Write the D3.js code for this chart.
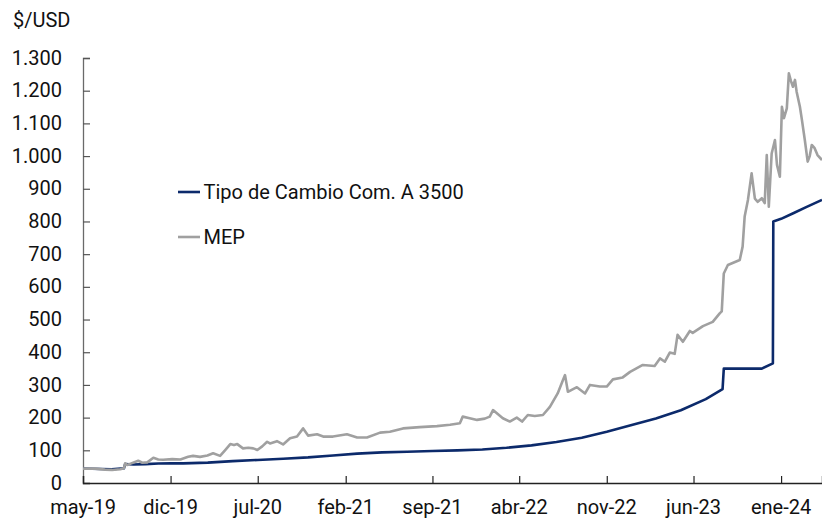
<!DOCTYPE html>
<html>
<head>
<meta charset="utf-8">
<script src="https://cdn.jsdelivr.net/npm/d3@7"></script>
<style>
  html, body { margin: 0; padding: 0; background: #fff; }
  svg { display: block; font-family: Roboto, "Noto Sans", sans-serif; }
</style>
</head>
<body>
<svg id="chart" width="822" height="520"></svg>
<script>
// ---------- DATA ----------
const unitLabel = "$/USD";
const seriesNames = ["Tipo de Cambio Com. A 3500", "MEP"];
const yTicks = [0, 100, 200, 300, 400, 500, 600, 700, 800, 900, 1000, 1100, 1200, 1300];
const xTickDates = ["2019-05-01", "2019-12-01", "2020-07-01", "2021-02-01", "2021-09-01",
                    "2022-04-01", "2022-11-01", "2023-06-01", "2024-01-01"];
const monthNames = ["ene", "feb", "mar", "abr", "may", "jun", "jul", "ago", "sep", "oct", "nov", "dic"];

const a3500Dates = ["2019-05-01", "2019-06-15", "2019-07-10", "2019-08-09", "2019-08-12", "2019-09-01",
  "2019-10-01", "2019-11-01", "2019-12-01", "2020-01-01", "2020-03-01", "2020-05-01", "2020-07-01",
  "2020-09-01", "2020-11-01", "2021-01-01", "2021-03-01", "2021-05-01", "2021-07-01", "2021-09-01",
  "2021-11-01", "2022-01-01", "2022-03-01", "2022-05-01", "2022-07-01", "2022-09-01", "2022-11-01",
  "2023-01-01", "2023-03-01", "2023-05-01", "2023-07-01", "2023-08-11", "2023-08-14", "2023-11-15",
  "2023-12-12", "2023-12-13", "2024-01-01", "2024-02-01", "2024-03-01", "2024-04-10"];
const a3500Values = [44.5, 43, 42, 45, 58, 56.5,
  57.6, 59.7, 59.9, 59.9, 62.3, 66.8, 70.5,
  74.2, 78.3, 84.1, 89.8, 93.6, 95.7, 97.7,
  99.7, 102.7, 107.6, 115.0, 125.2, 138.7, 156.9,
  177.1, 197.1, 222.4, 256.7, 287, 350, 350,
  366, 800, 808, 826, 843, 866];

const mepDates = ["2019-05-01", "2019-05-31", "2019-06-24", "2019-07-11", "2019-07-31", "2019-08-09",
  "2019-08-12", "2019-08-17", "2019-08-27", "2019-09-13", "2019-09-23", "2019-10-05", "2019-10-20",
  "2019-11-01", "2019-11-13", "2019-12-05", "2019-12-25", "2020-01-13", "2020-01-25", "2020-02-11",
  "2020-02-29", "2020-03-14", "2020-03-31", "2020-04-12", "2020-04-25", "2020-05-04", "2020-05-12",
  "2020-05-26", "2020-06-08", "2020-06-20", "2020-06-30", "2020-07-12", "2020-07-24", "2020-07-31",
  "2020-08-17", "2020-09-01", "2020-09-18", "2020-10-05", "2020-10-20", "2020-11-01", "2020-11-23",
  "2020-12-08", "2021-01-01", "2021-02-04", "2021-03-01", "2021-03-25", "2021-04-26", "2021-05-20",
  "2021-06-21", "2021-08-01", "2021-09-12", "2021-10-14", "2021-11-07", "2021-11-14", "2021-12-01",
  "2021-12-19", "2022-01-07", "2022-01-19", "2022-01-27", "2022-02-20", "2022-03-09", "2022-03-26",
  "2022-04-08", "2022-04-22", "2022-05-09", "2022-05-29", "2022-06-15", "2022-07-04", "2022-07-17",
  "2022-07-22", "2022-07-29", "2022-08-20", "2022-09-09", "2022-09-21", "2022-10-15", "2022-11-01",
  "2022-11-16", "2022-12-10", "2022-12-28", "2023-01-28", "2023-02-26", "2023-03-11", "2023-03-23",
  "2023-04-04", "2023-04-16", "2023-04-23", "2023-05-06", "2023-05-23", "2023-05-30", "2023-06-24",
  "2023-07-18", "2023-08-04", "2023-08-09", "2023-08-14", "2023-08-24", "2023-09-22", "2023-09-29",
  "2023-10-04", "2023-10-12", "2023-10-21", "2023-10-29", "2023-11-05", "2023-11-15", "2023-11-22",
  "2023-11-27", "2023-12-02", "2023-12-09", "2023-12-17", "2023-12-22", "2023-12-29", "2024-01-03",
  "2024-01-08", "2024-01-15", "2024-01-20", "2024-01-25", "2024-01-30", "2024-02-04", "2024-02-08",
  "2024-02-16", "2024-02-21", "2024-02-28", "2024-03-06", "2024-03-11", "2024-03-16", "2024-03-23",
  "2024-03-30", "2024-04-10"];
const mepValues = [44, 44, 41, 40, 42, 45,
  60, 55, 60, 68, 62, 63, 77,
  72, 71, 73, 72, 80, 83, 80,
  84, 91, 83, 100, 119, 116, 119,
  106, 108, 106, 101, 112, 126, 121,
  128, 118, 137, 142, 167, 145, 149,
  142, 142, 149, 139, 139, 154, 157,
  167, 171, 174, 178, 183, 203, 198,
  193, 197, 203, 223, 198, 188, 200,
  188, 208, 205, 208, 233, 274, 315,
  330, 279, 293, 274, 300, 295, 295,
  317, 323, 340, 361, 358, 381, 371,
  399, 395, 453, 432, 465, 459, 480,
  493, 519, 525, 641, 667, 682, 723,
  815, 866, 947, 870, 860, 871, 856,
  1003, 845, 1008, 1049, 973, 937, 1151,
  1116, 1146, 1253, 1230, 1212, 1233, 1197,
  1151, 1110, 1049, 983, 1000, 1034, 1024,
  1003, 988];

const colors = ["#0c2a6b", "#a0a0a0"];

// ---------- CHART ----------
(function () {
const parse = d3.utcParse("%Y-%m-%d");
const svg = d3.select("#chart");
const mLeft = 83, mRight = 822, mTop = 58, mBottom = 483;

const x = d3.scaleUtc()
  .domain([parse("2019-05-01"), parse("2024-04-10")])
  .range([mLeft, mRight]);
const y = d3.scaleLinear().domain([0, 1300]).range([mBottom, mTop]);

const locale = d3.formatLocale({ decimal: ",", thousands: ".", grouping: [3], currency: ["$", ""] });
const fmt = locale.format(",d");

svg.append("defs").append("clipPath").attr("id", "clip")
  .append("rect").attr("x", mLeft).attr("y", 0).attr("width", mRight - mLeft).attr("height", mBottom);

// y axis
const yAxis = svg.append("g").attr("transform", `translate(${mLeft},0)`)
  .call(d3.axisRight(y).tickValues(yTicks).tickSize(7).tickFormat(""));
yAxis.select(".domain").attr("stroke", "#6a6a6a").attr("stroke-width", 1.3);
yAxis.selectAll(".tick line").attr("stroke", "#555").attr("stroke-width", 1.2);

svg.append("g").selectAll("text").data(yTicks).join("text")
  .attr("x", 62).attr("y", d => y(d)).attr("dy", "0.33em")
  .attr("text-anchor", "end").attr("font-size", 20).attr("fill", "#111")
  .text(d => fmt(d));

// x axis
const xt = xTickDates.map(parse);
const xAxis = svg.append("g").attr("transform", `translate(0,${mBottom})`)
  .call(d3.axisTop(x).tickValues(xt).tickSize(7).tickFormat(""));
xAxis.select(".domain").attr("stroke", "#222").attr("stroke-width", 1.4);
xAxis.selectAll(".tick line").attr("stroke", "#222").attr("stroke-width", 1.2);

svg.append("g").selectAll("text").data(xt).join("text")
  .attr("x", d => x(d)).attr("y", 514)
  .attr("text-anchor", "middle").attr("font-size", 20).attr("fill", "#111")
  .text(d => monthNames[d.getUTCMonth()] + "-" + String(d.getUTCFullYear()).slice(2));

// unit label
svg.append("text").attr("x", 13).attr("y", 27).attr("font-size", 20).attr("fill", "#111").text(unitLabel);

// lines
const line = d3.line().x(d => x(d.date)).y(d => y(d.value));
const a3500 = a3500Dates.map((d, i) => ({ date: parse(d), value: a3500Values[i] }));
const mep = mepDates.map((d, i) => ({ date: parse(d), value: mepValues[i] }));

const g = svg.append("g").attr("clip-path", "url(#clip)");
g.append("path").datum(a3500).attr("d", line)
  .attr("fill", "none").attr("stroke", colors[0]).attr("stroke-width", 2.6).attr("stroke-linejoin", "round");
g.append("path").datum(mep).attr("d", line)
  .attr("fill", "none").attr("stroke", colors[1]).attr("stroke-width", 2.6).attr("stroke-linejoin", "round");

// legend
const legY = [192, 237];
const leg = svg.append("g");
seriesNames.forEach((name, i) => {
  leg.append("line").attr("x1", 178).attr("x2", 200).attr("y1", legY[i]).attr("y2", legY[i])
    .attr("stroke", colors[i]).attr("stroke-width", 2.6);
  leg.append("text").attr("x", 203.5).attr("y", legY[i]).attr("dy", "0.35em")
    .attr("font-size", 20).attr("fill", "#111").text(name);
});
})();
</script>
</body>
</html>
